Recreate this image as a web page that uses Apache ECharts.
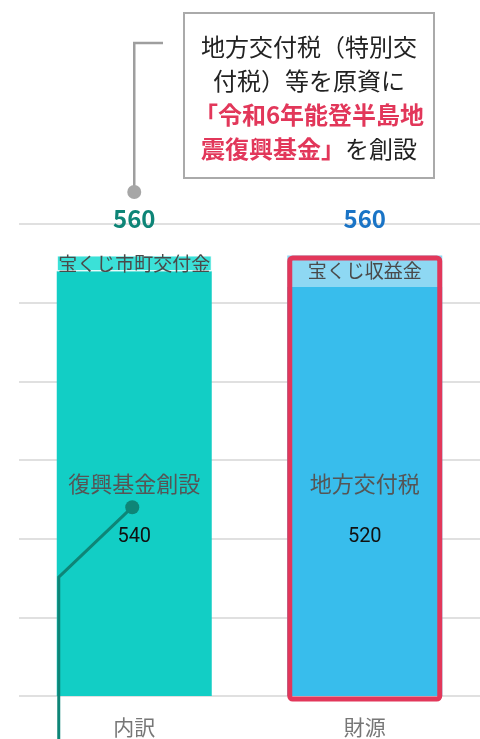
<!DOCTYPE html>
<html>
<head>
<meta charset="utf-8">
<script src="https://cdn.jsdelivr.net/npm/echarts@6/dist/echarts.min.js"></script>
<style>
  html, body { margin: 0; padding: 0; background: #fff; }
  #main { width: 480px; height: 739px; }
</style>
</head>
<body>
<div id="main"></div>
<script>
// data
var categories = ['内訳', '財源'];
var baseValues = [540, 520];
var baseNames = ['復興基金創設', '地方交付税'];
var topValues = [20, 40];
var topNames = ['宝くじ市町交付金', '宝くじ収益金'];
var totals = [560, 560];
var totalColors = ['#0E8577', '#1A74C6'];
var yMin = 0, yMax = 600, yStep = 100;

var JP = '"Noto Sans CJK JP", "Noto Sans", sans-serif';
var BAR_W = 155;
// both inner labels sit at the same height, whatever the segment size
var labelCenterValue = 236;

var chart = echarts.init(document.getElementById('main'));

var option = {
  animation: false,
  grid: { left: 19, right: 0, top: 224, bottom: 43 },
  xAxis: {
    type: 'category',
    data: categories,
    axisLine: { show: false },
    axisTick: { show: false },
    axisLabel: { color: '#777', fontSize: 21, fontFamily: JP, margin: 21 }
  },
  yAxis: {
    type: 'value',
    min: yMin, max: yMax, interval: yStep,
    axisLabel: { show: false },
    axisLine: { show: false },
    axisTick: { show: false },
    splitLine: { lineStyle: { color: '#e0e0e0', width: 2 } }
  },
  series: [
    {
      type: 'bar',
      stack: 'total',
      barWidth: BAR_W,
      data: baseValues.map(function (v, i) {
        return {
          value: v,
          itemStyle: { color: i === 0 ? '#12CEC5' : '#38BDEC' }
        };
      }),
      label: {
        show: true,
        position: 'inside',
        formatter: function (p) {
          return '{t|' + baseNames[p.dataIndex] + '}\n{n|' + p.value + '}';
        },
        rich: {
          t: { fontSize: 22, color: '#555', fontFamily: JP, lineHeight: 53 },
          n: { fontSize: 20, color: '#111', fontFamily: 'Roboto, sans-serif', lineHeight: 53 }
        }
      }
    },
    {
      type: 'bar',
      stack: 'total',
      barWidth: BAR_W,
      data: topValues.map(function (v, i) {
        return {
          value: v,
          itemStyle: i === 0
            ? { color: '#3BE1D8', borderColor: '#fff', borderWidth: 1 }
            : { color: '#8ED8F3' }
        };
      }),
      label: {
        show: true,
        position: 'inside',
        color: '#4a4a4a',
        fontSize: 19,
        fontFamily: JP,
        formatter: function (p) { return topNames[p.dataIndex]; }
      }
    }
  ]
};

chart.setOption(option);

function px(i, v) {
  return chart.convertToPixel({ gridIndex: 0 }, [i, v]);
}

function drawAnnotations() {
  // shift each inner label so its block centre is at labelCenterValue
  var baseData = baseValues.map(function (v, i) {
    var segMid = px(i, v / 2)[1];
    var want = px(i, labelCenterValue)[1];
    return {
      value: v,
      itemStyle: { color: i === 0 ? '#12CEC5' : '#38BDEC' },
      label: { offset: [0, want - segMid] }
    };
  });

  var g = [];
  // totals above bars
  totals.forEach(function (t, i) {
    var p = px(i, t);
    g.push({
      type: 'text', x: p[0], y: p[1] - 37, z: 10,
      style: {
        text: String(t), fill: totalColors[i], font: 'bold 24px ' + JP,
        align: 'center', verticalAlign: 'middle'
      }
    });
  });

  // red frame round the 財源 bar
  var top1 = px(1, totals[1]);
  var base1 = px(1, 0);
  var left1 = top1[0] - BAR_W / 2;
  g.push({
    type: 'rect', z: 10,
    shape: { x: left1 + 2.5, y: top1[1] + 2.5, width: BAR_W - 5, height: base1[1] - top1[1] + 0.5, r: 3 },
    style: { fill: null, stroke: '#E2375A', lineWidth: 5 }
  });

  // gray connector to the note box
  var top0 = px(0, totals[0]);
  var dotX = top0[0];
  g.push({
    type: 'polyline', z: 10,
    shape: { points: [[dotX, 192], [dotX, 43], [163, 43]] },
    style: { stroke: '#9e9e9e', lineWidth: 2.5, fill: null }
  });
  g.push({
    type: 'circle', z: 11,
    shape: { cx: dotX, cy: 192, r: 7 },
    style: { fill: '#a6a6a6' }
  });

  // note box
  g.push({
    type: 'rect', z: 10,
    shape: { x: 184, y: 13, width: 250, height: 165 },
    style: { fill: '#fff', stroke: '#aaa', lineWidth: 2 }
  });
  g.push({
    type: 'text', x: 309, y: 98, z: 11,
    style: {
      text: '{n|地方交付税（特別交}\n{n|付税）等を原資に}\n{r|「令和6年能登半島地}\n{r|震復興基金」}{n|を創設}',
      align: 'center', verticalAlign: 'middle',
      rich: {
        n: { fontSize: 24, fontFamily: JP, fill: '#222', lineHeight: 34 },
        r: { fontSize: 24, fontFamily: JP, fontWeight: 'bold', fill: '#E2375A', lineHeight: 34 }
      }
    }
  });

  // teal callout inside the 内訳 bar
  var leftEdge = top0[0] - BAR_W / 2;
  var dot = px(0, 240);
  var elbow = px(0, 151);
  g.push({
    type: 'polyline', z: 10,
    shape: { points: [[dot[0] - 2, dot[1]], [leftEdge + 2, elbow[1]], [leftEdge + 2, 745]] },
    style: { stroke: '#0E8577', lineWidth: 3, fill: null }
  });
  g.push({
    type: 'circle', z: 11,
    shape: { cx: dot[0] - 2, cy: dot[1], r: 7 },
    style: { fill: '#0E8577' }
  });

  chart.setOption({ series: [{ data: baseData }], graphic: g });
}

drawAnnotations();
</script>
</body>
</html>
